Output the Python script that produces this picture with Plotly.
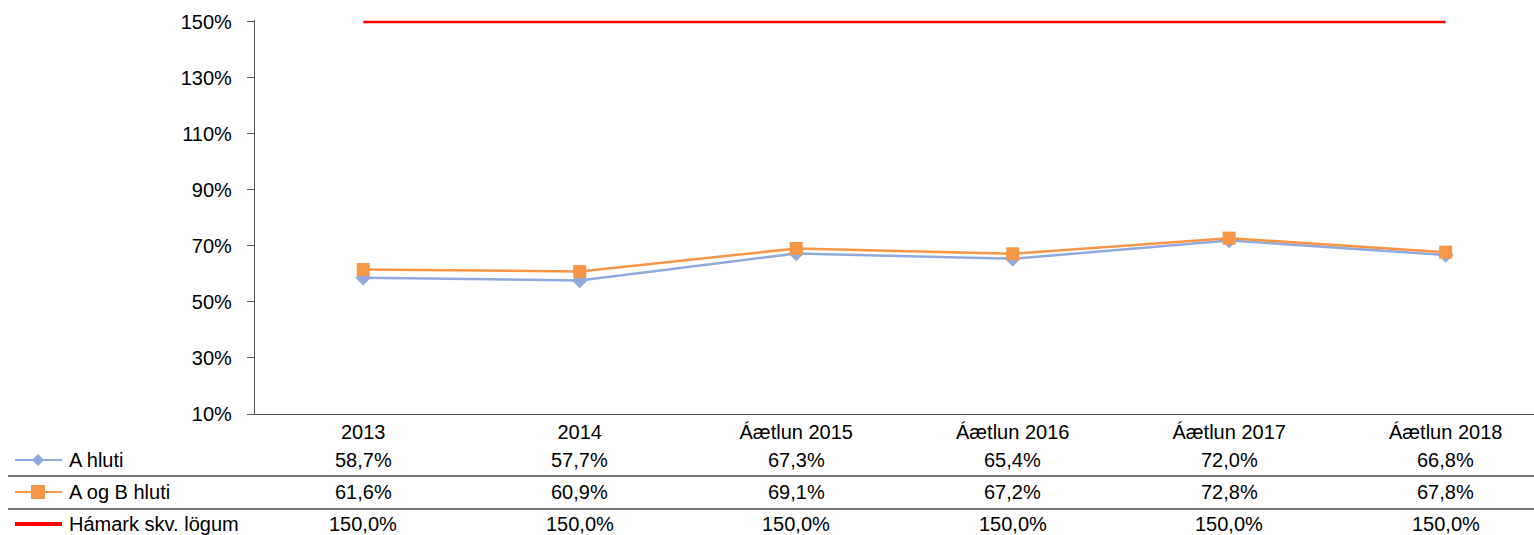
import plotly.graph_objects as go

categories = ["2013", "2014", "Áætlun 2015", "Áætlun 2016", "Áætlun 2017", "Áætlun 2018"]
a_hluti = [58.7, 57.7, 67.3, 65.4, 72.0, 66.8]
a_og_b = [61.6, 60.9, 69.1, 67.2, 72.8, 67.8]
hamark = [150.0, 150.0, 150.0, 150.0, 150.0, 150.0]
series_names = ["A hluti", "A og B hluti", "Hámark skv. lögum"]
y_ticks = [10, 30, 50, 70, 90, 110, 130, 150]

W, H = 1534, 535
L, R, T, B = 255, 0, 20, 121
PW = W - L - R
PH = H - T - B
FONT = "Liberation Sans, Arial, sans-serif"
BLUE = "#8FAADC"
ORANGE = "#F79646"
RED = "#FF0000"


def px(xp):
    return (xp - L) / PW


def py(yp):
    return (H - B - yp) / PH


def fmt(v):
    return f"{v:.1f}".replace(".", ",") + "%"


fig = go.Figure()
fig.add_trace(go.Scatter(x=categories, y=a_hluti, mode="lines+markers", name=series_names[0],
                         line=dict(color=BLUE, width=2.5),
                         marker=dict(symbol="diamond", size=12, color=BLUE)))
fig.add_trace(go.Scatter(x=categories, y=a_og_b, mode="lines+markers", name=series_names[1],
                         line=dict(color=ORANGE, width=2.5),
                         marker=dict(symbol="square", size=13, color=ORANGE)))
fig.add_trace(go.Scatter(x=categories, y=hamark, mode="lines", name=series_names[2],
                         line=dict(color=RED, width=2.5)))

shapes = []
annotations = []
row_y = [460, 492, 524]
series_vals = [a_hluti, a_og_b, hamark]
colors = [BLUE, ORANGE, RED]
for i, (name, vals, col) in enumerate(zip(series_names, series_vals, colors)):
    yc = py(row_y[i])
    # legend key line
    shapes.append(dict(type="line", xref="paper", yref="paper", x0=px(15), x1=px(62), y0=yc, y1=yc,
                       line=dict(color=col, width=2 if i < 2 else 4)))
    annotations.append(dict(xref="paper", yref="paper", x=px(67), y=yc, text=name, showarrow=False,
                            xanchor="left", yanchor="middle", font=dict(family=FONT, size=20, color="#000")))
    for ci, v in enumerate(vals):
        annotations.append(dict(xref="x", yref="paper", x=ci, y=yc, text=fmt(v), showarrow=False,
                                xanchor="center", yanchor="middle",
                                font=dict(family=FONT, size=20, color="#000")))

# legend key markers
yc0 = py(row_y[0])
d = 6
shapes.append(dict(type="path", xref="paper", yref="paper",
                   path=(f"M {px(38-d)},{yc0} L {px(38)},{py(row_y[0]-d)} "
                         f"L {px(38+d)},{yc0} L {px(38)},{py(row_y[0]+d)} Z"),
                   fillcolor=BLUE, line=dict(color=BLUE, width=0)))
s = 7
shapes.append(dict(type="rect", xref="paper", yref="paper", x0=px(38 - s), x1=px(38 + s),
                   y0=py(row_y[1] + s), y1=py(row_y[1] - s),
                   fillcolor=ORANGE, line=dict(color=ORANGE, width=0)))

# table separators
for yl in [476, 509]:
    shapes.append(dict(type="line", xref="paper", yref="paper", x0=px(8), x1=1, y0=py(yl), y1=py(yl),
                       line=dict(color="#444", width=1.3)))

fig.update_layout(
    width=W, height=H,
    margin=dict(l=L, r=R, t=T, b=B, pad=0),
    paper_bgcolor="white", plot_bgcolor="white",
    showlegend=False,
    font=dict(family=FONT, size=20, color="#000"),
    shapes=shapes,
    annotations=annotations,
)
fig.update_xaxes(type="category", range=[-0.5, 5.408], showline=True, linecolor="#555", linewidth=1.3,
                 ticks="", showgrid=False, zeroline=False,
                 tickfont=dict(family=FONT, size=20, color="#000"))
fig.update_yaxes(range=[10, 150.7], tickvals=y_ticks, ticktext=[f"{v}%" for v in y_ticks],
                 showline=True, linecolor="#555", linewidth=1.3, ticks="outside", ticklen=7,
                 tickcolor="#555", showgrid=False, zeroline=False, ticklabelstandoff=11,
                 tickfont=dict(family=FONT, size=20, color="#000"))

fig.write_html("out.html")
